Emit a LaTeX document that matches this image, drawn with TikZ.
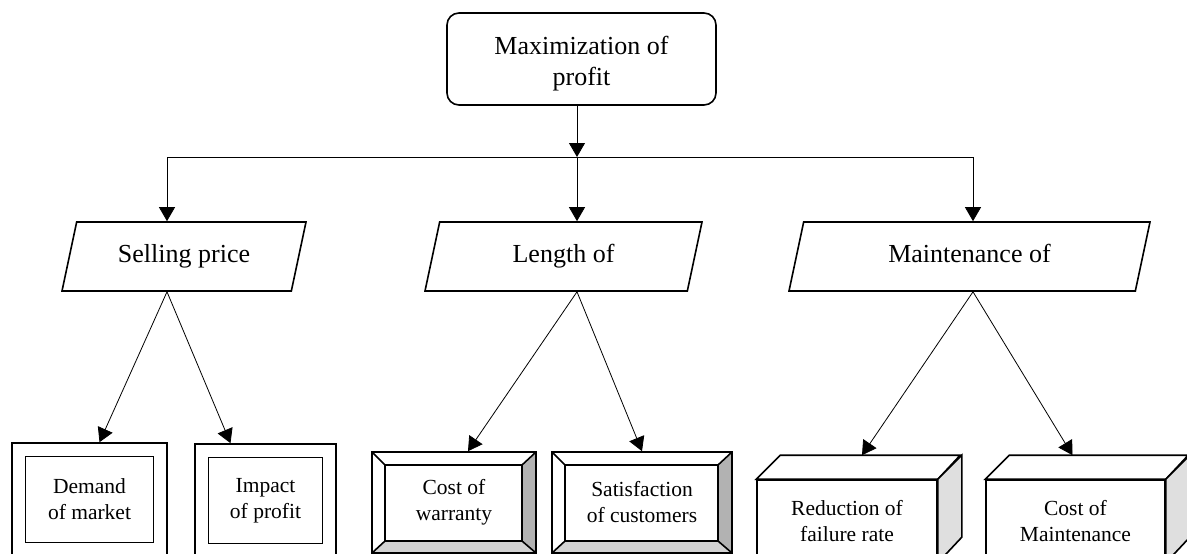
\documentclass[tikz,border=0pt]{standalone}
\usepackage{fontspec}
\setmainfont{Liberation Serif}
\usetikzlibrary{positioning,shapes.geometric,arrows.meta,calc}

\begin{document}
\begin{tikzpicture}[x=1pt, y=-1pt,
    big/.style={font=\fontsize{26}{31}\selectfont, align=center},
    small/.style={font=\fontsize{21.5}{26}\selectfont, align=center},
    goal/.style={big, rectangle, rounded corners=12pt, draw, line width=1.6pt, minimum width=269pt, minimum height=92pt},
    factor/.style={big, trapezium, trapezium left angle=78, trapezium right angle=102, trapezium stretches body, draw, line width=1.6pt,
        text height=18pt, text depth=6pt, inner ysep=22.5pt},
    framed/.style={small, rectangle, draw, line width=1.6pt, minimum height=113pt,
        path picture={\draw[line width=1.6pt] ([shift={(13.5,13.5)}]path picture bounding box.north west) rectangle ([shift={(-13.5,-13.5)}]path picture bounding box.south east);}},
    bevel/.style={small, rectangle, draw, line width=1.6pt, minimum height=101pt,
        path picture={
            \path (path picture bounding box.north west) coordinate (o1) (path picture bounding box.north east) coordinate (o2)
                  (path picture bounding box.south east) coordinate (o3) (path picture bounding box.south west) coordinate (o4);
            \path ([shift={(13,13)}]o1) coordinate (i1) ([shift={(-14,13)}]o2) coordinate (i2)
                  ([shift={(-14,-12)}]o3) coordinate (i3) ([shift={(13,-12)}]o4) coordinate (i4);
            \fill[gray!60] (o2) -- (i2) -- (i3) -- (o3) -- cycle;
            \fill[gray!35] (o3) -- (i3) -- (i4) -- (o4) -- cycle;
            \draw[line width=1.6pt] (i1) rectangle (i3) (o1) -- (i1) (o2) -- (i2) (o3) -- (i3) (o4) -- (i4);
        }},
    cube/.style={small, rectangle, draw, line width=1.6pt, fill=white, minimum height=82pt},
    face/.style={draw, line width=1.6pt},
    arr/.style={-{Triangle[length=14pt,width=16pt]}, line width=0.8pt},
    bus/.style={line width=0.8pt}
]
    \useasboundingbox (0,0) rectangle (1187,554);
    \clip (0,0) rectangle (1187,554);

    % Top goal
    \node[goal, text height=58pt, text depth=5.6pt] (goal) at (581.5,59) {Maximization of\\profit};

    % Row 1 - Factors
    \node[factor, minimum width=244pt] (price) at (184,256.5) {Selling price};
    \node[factor, minimum width=277pt] (length) at (563.5,256.5) {Length of};
    \node[factor, minimum width=361pt] (maint) at (969.5,256.5) {Maintenance of};

    % Row 2 - Effects
    \node[framed, minimum width=155pt] (demand) at (89.5,499.5) {Demand\\of market};
    \node[framed, minimum width=141pt] (impact) at (265.5,500.5) {Impact\\of profit};
    \node[bevel, minimum width=164pt] (warranty) at (454,502.5) {Cost of\\warranty};
    \node[bevel, minimum width=180pt] (satisf) at (642,502.5) {Satisfaction\\of customers};
    \node[cube, minimum width=180pt] (failure) at (847,521) {Reduction of\\failure rate};
    \node[cube, minimum width=179pt] (costm) at (1075.5,521) {Cost of\\Maintenance};
    \draw[face, fill=white] (failure.north west) -- ++(24,-24) -- ++(180,0) -- (failure.north east) -- cycle;
    \draw[face, fill=gray!25] (failure.north east) -- ++(24,-24) -- ++(0,82) -- (failure.south east) -- cycle;
    \draw[face, fill=white] (costm.north west) -- ++(24,-24) -- ++(179,0) -- (costm.north east) -- cycle;
    \draw[face, fill=gray!25] (costm.north east) -- ++(24,-24) -- ++(0,82) -- (costm.south east) -- cycle;

    % Connectors
    \coordinate (jleft) at (167,157);
    \coordinate (jmid) at (577,157);
    \coordinate (jright) at (973,157);
    \draw[arr] (goal.south -| jmid) -- (jmid);
    \draw[bus] (jleft) -- (jright);
    \draw[arr] (jleft) -- (jleft |- price.north);
    \draw[arr] (jmid) -- (jmid |- length.north);
    \draw[arr] (jright) -- (jright |- maint.north);

    \draw[arr] (jleft |- price.south) -- ([xshift=10pt]demand.north);
    \draw[arr] (jleft |- price.south) -- ([xshift=-35pt]impact.north);
    \draw[arr] (jmid |- length.south) -- ([xshift=14pt]warranty.north);
    \draw[arr] (jmid |- length.south) -- (satisf.north);
    \draw[arr] (jright |- maint.south) -- ([shift={(15,-24)}]failure.north);
    \draw[arr] (jright |- maint.south) -- ([shift={(-3,-24)}]costm.north);
\end{tikzpicture}
\end{document}
